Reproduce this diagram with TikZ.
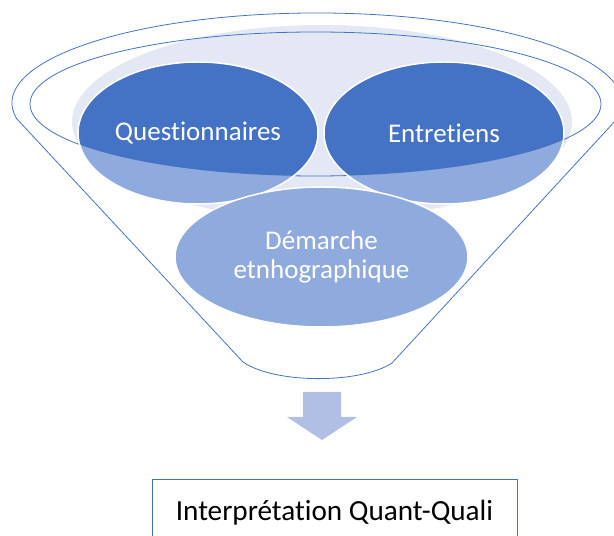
\documentclass[tikz,border=0pt]{standalone}
\usepackage{fontspec}
\setmainfont{Carlito}[Ligatures=NoCommon]
\usetikzlibrary{shapes.geometric}
\definecolor{funnelblue}{RGB}{68,114,196}
\definecolor{softblue}{RGB}{143,170,220}
\definecolor{paleblue}{RGB}{227,232,244}
\definecolor{arrowblue}{RGB}{176,191,227}
\begin{document}
\begin{tikzpicture}[x=1pt, y=1pt,
  rim/.style={draw=funnelblue, line width=0.8pt},
  bubble/.style={ellipse, draw=white, line width=1.5pt, inner sep=0pt,
    text=white, align=center, font=\fontsize{27}{29}\selectfont},
  resultbox/.style={draw=funnelblue, line width=0.8pt, inner sep=0pt,
    minimum width=365pt, minimum height=68pt, font=\fontsize{29.2}{32}\selectfont}]
\useasboundingbox (0,0) rectangle (614,536);
\fill[color=paleblue] (322,414) ellipse [x radius=250, y radius=97];
\draw[rim] (315.5,432) ellipse [x radius=285.5, y radius=72];
\draw[rim] (243,174) -- (16.6,417.4)
      arc[start angle=190, end angle=-10, x radius=305, y radius=90]
      -- (392,173)
      .. controls (360,152) and (275,152) .. (243,174);
\fill[color=softblue] (198,403) ellipse [x radius=120, y radius=71];
\fill[color=softblue] (444,403) ellipse [x radius=120, y radius=71];
\begin{scope}
  \clip (315.5,432) ellipse [x radius=285.5, y radius=72];
  \fill[color=funnelblue] (198,403) ellipse [x radius=120, y radius=71];
  \fill[color=funnelblue] (444,403) ellipse [x radius=120, y radius=71];
\end{scope}
\node[bubble, minimum width=240pt, minimum height=142pt] (quest) at (198,403) {Questionnaires};
\node[bubble, minimum width=240pt, minimum height=142pt] (entre) at (444,403) {Entretiens};
\node[bubble, fill=softblue, minimum width=293pt, minimum height=140pt] (demar) at (321.5,279)
      {Démarche\\etnhographique};
\fill[color=arrowblue] (303,144) -- (341,144) -- (341,119) -- (357,119)
      -- (322,96) -- (287,119) -- (303,119) -- cycle;
\node[resultbox] (interp) at (334.5,23) {Interprétation Quant-Quali};
\end{tikzpicture}
\end{document}
